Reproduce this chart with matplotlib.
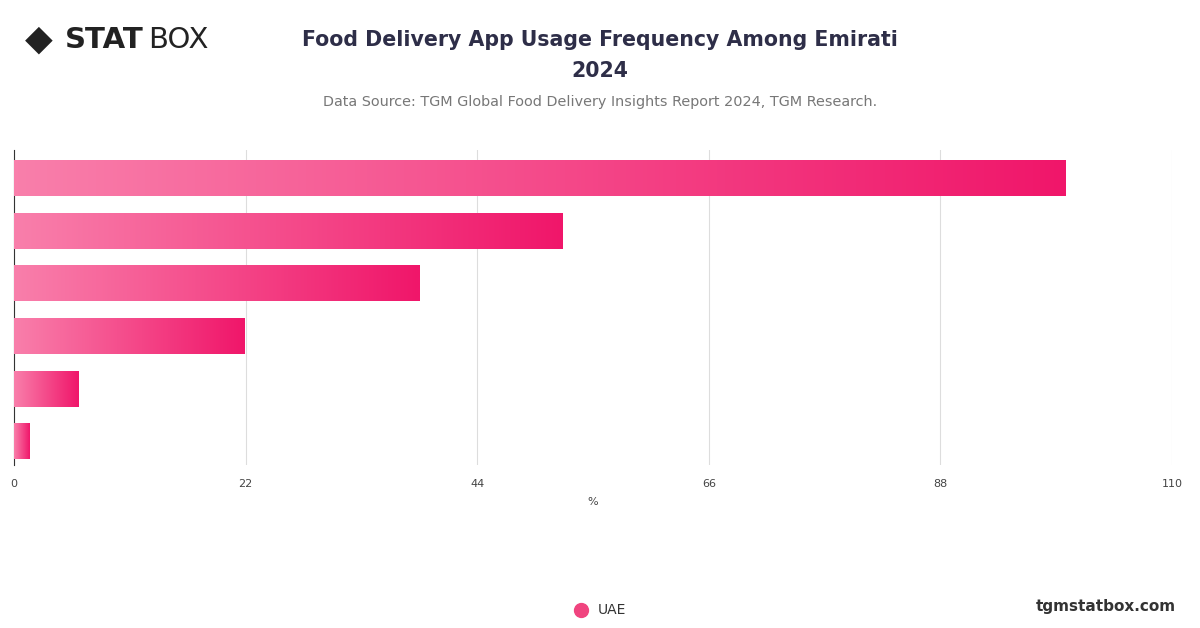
import matplotlib
matplotlib.use("Agg")
import matplotlib.pyplot as plt
import numpy as np
from matplotlib.colors import LinearSegmentedColormap
from matplotlib.patches import Rectangle
from matplotlib.lines import Line2D

categories = ["Daily", "Weekly", "Monthly", "Occasionally", "Rarely", "Never"]
values = [99.9, 52.1, 38.5, 21.9, 6.1, 1.5]
ticks = [0, 22, 44, 66, 88, 110]

fig = plt.figure(figsize=(12, 6.28), dpi=100)
ax = fig.add_axes([14/1200, 1-465/628, (1172-14)/1200, 315/628])
cmap = LinearSegmentedColormap.from_list("g", ["#f97fab", "#f0166a"])
grad = np.linspace(0, 1, 256).reshape(1, -1)
h = 0.68
for i, v in enumerate(values):
    im = ax.imshow(grad, extent=[0, v, i + h/2, i - h/2], aspect="auto", cmap=cmap, zorder=3)
    r = Rectangle((0, i - h/2), v, h, transform=ax.transData, visible=False)
    ax.add_patch(r)
    im.set_clip_path(r)
ax.set_xlim(0, 110)
ax.set_ylim(5.45, -0.53)
ax.set_xticks(ticks)
ax.set_xticklabels([str(t) for t in ticks], fontsize=8, color="#444444")
ax.set_yticks([])
ax.grid(axis="x", color="#dddddd", lw=0.8, zorder=0)
for s in ["top", "right", "bottom"]:
    ax.spines[s].set_visible(False)
ax.spines["left"].set_color("#333333")
ax.tick_params(axis="x", length=0, pad=10)
ax.set_xlabel("%", fontsize=8, color="#444444", labelpad=6)

fig.text(0.5, 1-40/628, "Food Delivery App Usage Frequency Among Emirati", ha="center", va="center",
         fontsize=14.8, fontweight="bold", color="#2e2e48")
fig.text(0.5, 1-71/628, "2024", ha="center", va="center", fontsize=14.8, fontweight="bold", color="#2e2e48")
fig.text(0.5, 1-102/628, "Data Source: TGM Global Food Delivery Insights Report 2024, TGM Research.",
         ha="center", va="center", fontsize=10.4, color="#777777")
fig.text(25/1200, 1-40/628, "◆", fontsize=26, color="#222222", va="center")
fig.text(65/1200, 1-40/628, "STAT", fontsize=21, fontweight="bold", color="#222222", va="center")
fig.text(148/1200, 1-40/628, "BOX", fontsize=21, color="#222222", va="center")
fig.add_artist(Line2D([581/1200], [1-610/628], marker="o", markersize=10, color="#f0447f",
                      linestyle="none", transform=fig.transFigure))
fig.text(598/1200, 1-610/628, "UAE", fontsize=10, color="#333333", va="center")
fig.text(1176/1200, 1-606/628, "tgmstatbox.com", fontsize=11, fontweight="bold", color="#333333",
         ha="right", va="center")
fig.savefig("out.png", dpi=100)
